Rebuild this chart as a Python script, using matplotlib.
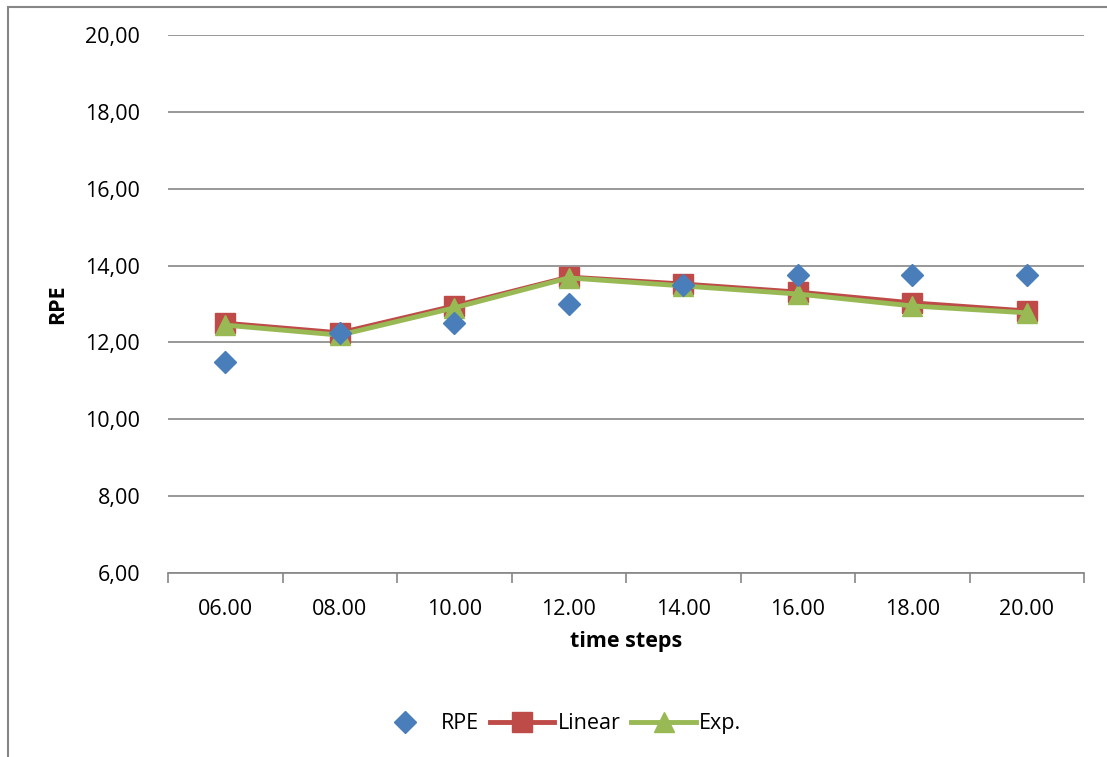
import matplotlib.pyplot as plt
import numpy as np
from matplotlib.patches import Rectangle

plt.rcParams['font.family'] = ['Open Sans', 'DejaVu Sans']

# data
categories = ['06.00', '08.00', '10.00', '12.00', '14.00', '16.00', '18.00', '20.00']
rpe = [11.50, 12.25, 12.50, 13.00, 13.50, 13.75, 13.75, 13.75]
linear = [12.50, 12.25, 12.95, 13.70, 13.52, 13.31, 13.03, 12.82]
expo = [12.45, 12.19, 12.90, 13.68, 13.47, 13.26, 12.95, 12.77]
yticks = [6, 8, 10, 12, 14, 16, 18, 20]

fs = 15.5

fig = plt.figure(figsize=(11.07, 7.57), dpi=100)
ax = fig.add_axes([168/1107, 1 - 573/757, (1084-168)/1107, (573-35)/757])

# outer chart border
fig.patches.append(Rectangle((8/1107, -0.05), 1.2, 1 - 7/757 + 0.05,
                             transform=fig.transFigure, fill=False,
                             edgecolor='#868686', linewidth=1.5))

x = np.arange(len(categories))
ax.plot(x, rpe, linestyle='none', marker='D', markersize=11, color='#4a7ebb',
        label='RPE', zorder=5)
ax.plot(x, linear, color='#be4b48', linewidth=3.5, marker='s', markersize=14,
        label='Linear', zorder=3)
ax.plot(x, expo, color='#98b954', linewidth=3.5, marker='^', markersize=14,
        label='Exp.', zorder=4)

ax.set_xlim(-0.5, len(categories) - 0.5)
ax.set_ylim(6, 20)
ax.set_yticks(yticks)
ax.set_yticklabels(['%d,00' % v for v in yticks], fontsize=fs)
ax.set_xticks(x)
ax.set_xticklabels(categories, fontsize=fs)
ax.set_xticks(np.arange(len(categories) + 1) - 0.5, minor=True)
ax.tick_params(axis='x', which='major', length=0, pad=19)
ax.tick_params(axis='x', which='minor', length=7, color='#868686', width=1.2)
ax.tick_params(axis='y', length=0, pad=20)

ax.grid(axis='y', color='#868686', linewidth=1.2)
ax.set_axisbelow(True)
for s in ['top', 'right', 'left']:
    ax.spines[s].set_visible(False)
ax.spines['bottom'].set_color('#868686')
ax.spines['bottom'].set_linewidth(1.2)

ax.set_xlabel('time steps', fontsize=fs, fontweight='bold', labelpad=8)
ax.set_ylabel('RPE', fontsize=fs, fontweight='bold', labelpad=12)

ax.legend(loc='upper center', bbox_to_anchor=(0.425, -0.225), ncol=3, frameon=False,
          fontsize=fs, handlelength=3.0, columnspacing=0.5, handletextpad=0.15)

plt.savefig('out.png', dpi=100)
